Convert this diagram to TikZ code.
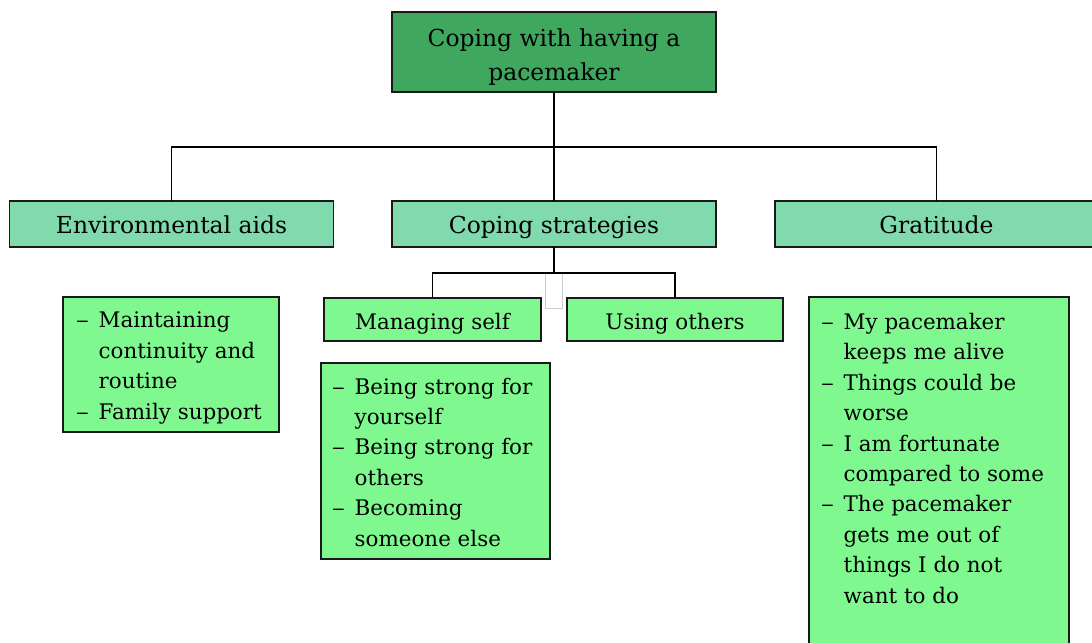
\documentclass[tikz,border=0pt]{standalone}
\usepackage{fontspec}
\setmainfont{DejaVu Serif}
\definecolor{rootgreen}{HTML}{3FA85E}
\definecolor{hdrgreen}{HTML}{80DAAE}
\definecolor{subgreen}{HTML}{80F890}
\tikzset{
  box/.style={draw=black!90, line width=1.6bp, rectangle, inner sep=0pt, outer sep=0pt},
  rootbox/.style={box, fill=rootgreen},
  roottext/.style={inner sep=0pt, align=center, font=\fontsize{23.5}{34}\selectfont},
  hdrbox/.style={box, fill=hdrgreen, text height=22bp, text depth=2bp, font=\fontsize{23.5}{30}\selectfont},
  subbox/.style={box, fill=subgreen, text height=21.5bp, text depth=1.5bp, font=\fontsize{21.5}{30}\selectfont},
  listbox/.style={box, fill=subgreen},
  listtext/.style={anchor=base west, inner sep=0pt, align=left, font=\fontsize{21.5}{30.5}\selectfont},
  conn/.style={draw=black, line width=1.6bp},
}
\newcommand{\itm}{\makebox[22.5bp][l]{\scalebox{1.2}[1]{–}}}
\newcommand{\cnt}{\hspace*{22.5bp}}
\begin{document}
\begin{tikzpicture}[x=1bp,y=-1bp]
\useasboundingbox (0,0) rectangle (1092,643);
\fill[white] (0,0) rectangle (1092,643);
% top
\node[rootbox, minimum width=324bp, minimum height=80bp] (root) at (554,52) {};
\node[roottext] (roottxt) at (554,57) {Coping with having a\\pacemaker};
\node[hdrbox, minimum width=324bp, minimum height=46bp] (env) at (171.5,224) {Environmental aids};
\node[hdrbox, minimum width=324bp, minimum height=46bp] (cop) at (554,224) {Coping strategies};
\node[hdrbox, minimum width=323bp, minimum height=46bp] (grat) at (936.5,224) {Gratitude};
\coordinate (bus) at (554,147);
\draw[conn] (root.south) -- (bus);
\draw[conn] (bus) -- (cop.north);
\draw[conn] (env.north) |- (bus) -| (grat.north);
% second level
\node[draw=black!20, line width=0.8bp, minimum width=17bp, minimum height=35bp, inner sep=0pt] (ghost) at (553.5,290.5) {};
\node[subbox, minimum width=217bp, minimum height=43bp] (mself) at (432.5,319.5) {Managing self};
\node[subbox, minimum width=216bp, minimum height=43bp] (uoth) at (675,319.5) {Using others};
\coordinate (bus2) at (554,273);
\draw[conn] (cop.south) -- (bus2);
\draw[conn] (mself.north) |- (bus2) -| (uoth.north);
% lists (anchor = baseline of last line)
\node[listbox, minimum width=216bp, minimum height=135bp] (envlist) at (171,364.5) {};
\node[listtext] (envtxt) at (76,419) {\itm Maintaining\\\cnt continuity and\\\cnt routine\\\itm Family support};
\node[listbox, minimum width=229bp, minimum height=196bp] (mlist) at (435.5,461) {};
\node[listtext] (mtxt) at (332,546) {\itm Being strong for\\\cnt yourself\\\itm Being strong for\\\cnt others\\\itm Becoming\\\cnt someone else};
\node[listbox, minimum width=260bp, minimum height=360bp] (glist) at (939,477) {};
\node[listtext] (gtxt) at (821,603) {\itm My pacemaker\\\cnt keeps me alive\\\itm Things could be\\\cnt worse\\\itm I am fortunate\\\cnt compared to some\\\itm The pacemaker\\\cnt gets me out of\\\cnt things I do not\\\cnt want to do};
\end{tikzpicture}
\end{document}
